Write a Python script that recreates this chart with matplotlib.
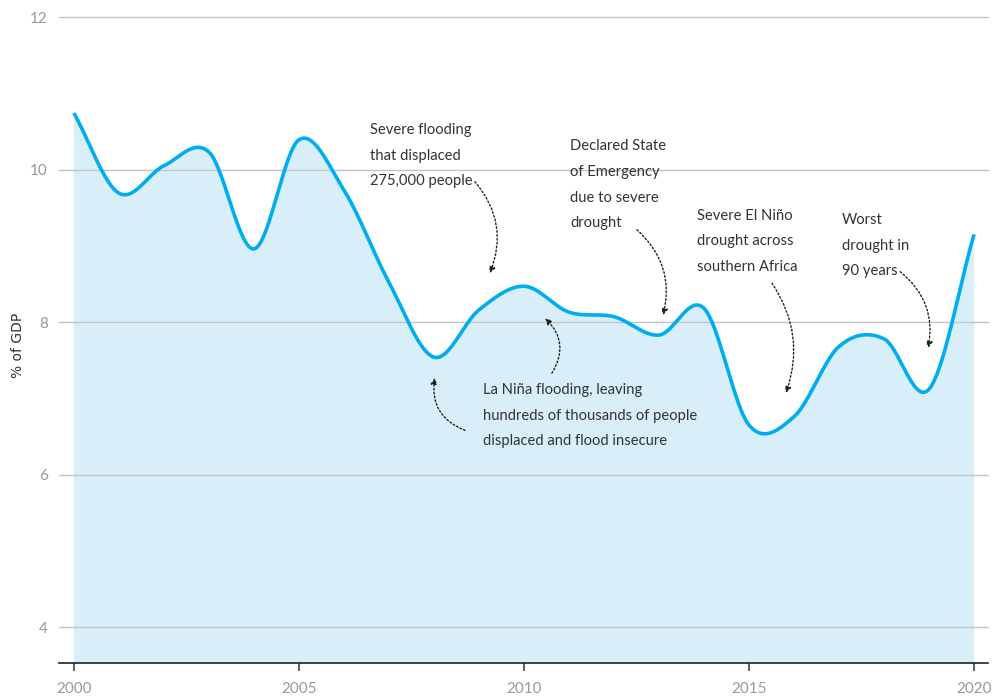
import numpy as np
import matplotlib
matplotlib.use('Agg')
import matplotlib.pyplot as plt
from matplotlib import font_manager

# Data: share of GDP by year
years = [2000, 2001, 2002, 2003, 2004, 2005, 2006, 2007, 2008, 2009, 2010,
         2011, 2012, 2013, 2014, 2015, 2016, 2017, 2018, 2019, 2020]
values = [10.74, 9.69, 10.05, 10.23, 8.96, 10.39, 9.73, 8.52, 7.54, 8.16, 8.47,
          8.13, 8.07, 7.83, 8.18, 6.65, 6.76, 7.68, 7.78, 7.12, 9.15]

y_ticks = [4, 6, 8, 10, 12]
x_ticks = [2000, 2005, 2010, 2015, 2020]

annotations = [
    "Severe flooding\nthat displaced\n275,000 people",
    "Declared State\nof Emergency\ndue to severe\ndrought",
    "Severe El Niño\ndrought across\nsouthern Africa",
    "Worst\ndrought in\n90 years",
    "La Niña flooding, leaving\nhundreds of thousands of people\ndisplaced and flood insecure",
]

# pick a narrow-ish font if one is installed
installed = {f.name for f in font_manager.fontManager.ttflist}
text_font = 'DejaVu Sans'
for cand in ['Liberation Sans Narrow', 'Lato', 'Open Sans']:
    if cand in installed:
        text_font = cand
        break


def catmull_rom(x, y, per_seg=40):
    # Catmull-Rom curve through the yearly points, only for drawing a smooth line
    x = np.asarray(x, float)
    y = np.asarray(y, float)
    n = len(x)
    m = np.zeros(n)
    m[1:-1] = (y[2:] - y[:-2]) / (x[2:] - x[:-2])
    m[0] = (y[1] - y[0]) / (x[1] - x[0])
    m[-1] = (y[-1] - y[-2]) / (x[-1] - x[-2])
    xs, ys = [], []
    for i in range(n - 1):
        h = x[i + 1] - x[i]
        t = np.linspace(0, 1, per_seg, endpoint=(i == n - 2))
        h00 = 2 * t ** 3 - 3 * t ** 2 + 1
        h10 = t ** 3 - 2 * t ** 2 + t
        h01 = -2 * t ** 3 + 3 * t ** 2
        h11 = t ** 3 - t ** 2
        xs.append(x[i] + t * h)
        ys.append(h00 * y[i] + h10 * h * m[i] + h01 * y[i + 1] + h11 * h * m[i + 1])
    return np.concatenate(xs), np.concatenate(ys)


xs, ys = catmull_rom(years, values)

fig = plt.figure(figsize=(10.01, 6.97), dpi=100)
ax = fig.add_axes([0.0589, 0.0488, 0.9281, 0.9268])

line_color = '#00aeef'
fill_color = '#d8eff9'
ax.fill_between(xs, ys, 0, color=fill_color, lw=0, zorder=1)
ax.plot(xs, ys, color=line_color, lw=2.6, zorder=3, solid_capstyle='butt')

ax.set_xlim(1999.667, 2020.31)
ax.set_ylim(3.53, 12.0)

for t in y_ticks:
    ax.axhline(t, color='#c4c4c4', lw=1, zorder=2, clip_on=False)

for s in ['top', 'right', 'left']:
    ax.spines[s].set_visible(False)
ax.spines['bottom'].set_color('#222222')
ax.spines['bottom'].set_linewidth(1.2)
ax.spines['bottom'].set_zorder(4)

ax.set_yticks(y_ticks)
ax.set_xticks(x_ticks)
ax.tick_params(axis='y', length=0, pad=8, labelsize=11, labelcolor='#999999')
ax.tick_params(axis='x', length=6, width=1.2, color='#444444', pad=8,
               labelsize=11, labelcolor='#999999')
for lab in ax.get_xticklabels() + ax.get_yticklabels():
    lab.set_fontfamily(text_font)

fig.text(0.018, 0.505, '% of GDP', rotation=90, ha='center', va='center',
         fontsize=10, color='#333333')

txt = dict(fontsize=10.6, color='#333333', linespacing=2.05, va='center',
           ha='left', family=text_font, zorder=5)
ax.text(2006.58, 10.18, annotations[0], **txt)
ax.text(2011.02, 9.80, annotations[1], **txt)
ax.text(2013.84, 9.06, annotations[2], **txt)
ax.text(2017.07, 9.00, annotations[3], **txt)
ax.text(2009.09, 6.77, annotations[4], **txt)


def arrow(start, end, rad):
    ax.annotate('', xy=end, xytext=start,
                arrowprops=dict(arrowstyle='-|>', color='#222222', lw=1.0,
                                linestyle=(0, (1.2, 1.6)), mutation_scale=9,
                                shrinkA=0, shrinkB=0,
                                connectionstyle=f'arc3,rad={rad}'),
                zorder=5)


arrow((2008.91, 9.84), (2009.24, 8.64), -0.3)
arrow((2012.51, 9.21), (2013.09, 8.09), -0.3)
arrow((2015.51, 8.51), (2015.82, 7.07), -0.25)
arrow((2018.36, 8.66), (2018.98, 7.66), -0.3)
arrow((2008.69, 6.58), (2008.02, 7.27), -0.4)
arrow((2010.62, 7.33), (2010.47, 8.05), 0.4)

fig.savefig('out.png', dpi=100)
